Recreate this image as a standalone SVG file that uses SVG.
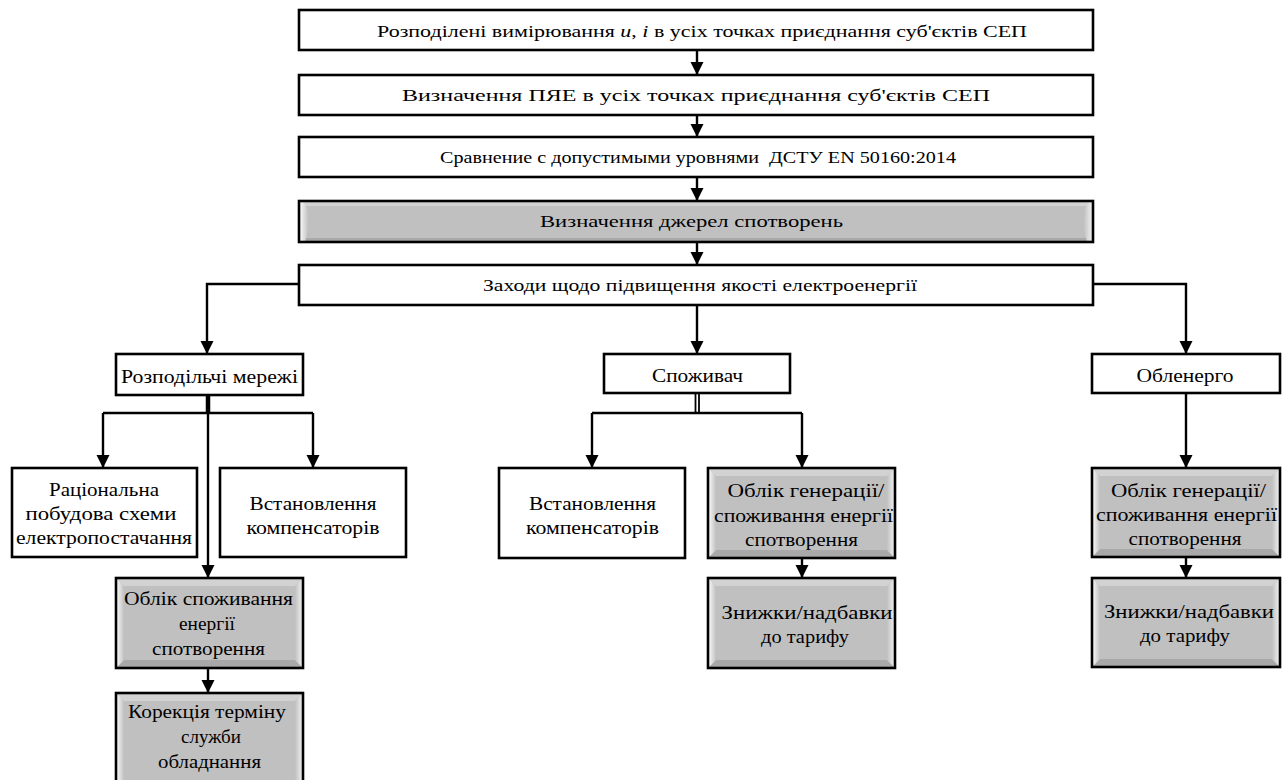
<svg xmlns="http://www.w3.org/2000/svg" width="1284" height="780" viewBox="0 0 1284 780">
<defs>
<marker id="arr" viewBox="0 0 13 14" refX="12" refY="7" markerWidth="13" markerHeight="14" markerUnits="userSpaceOnUse" orient="auto">
<path d="M0,0.5 L13,7 L0,13.5 z" fill="#000"/>
</marker>
<linearGradient id="bevL" x1="0" y1="0" x2="1" y2="0">
<stop offset="0" stop-color="#ffffff"/>
<stop offset="1" stop-color="#c0c0c0"/>
</linearGradient>
<linearGradient id="bevR" x1="0" y1="0" x2="1" y2="0">
<stop offset="0" stop-color="#c0c0c0"/>
<stop offset="1" stop-color="#f4f4f4"/>
</linearGradient>
</defs>
<style>
.box{fill:#fff;stroke:#000;stroke-width:2.6}
.gbox{fill:none;stroke:#000;stroke-width:2.6}
.gfill{fill:#c0c0c0}
.bt{fill:#d2d2d2}
.bb{fill:#a9a9a9}
.bl{fill:url(#bevL)}
.br{fill:url(#bevR)}
.t{font-size:17px;fill:#000;text-anchor:middle}
.t2{font-size:19.5px;fill:#000;text-anchor:middle}
.c{fill:none;stroke:#000;stroke-width:2.4}
.ca{fill:none;stroke:#000;stroke-width:2.4;marker-end:url(#arr)}
</style>
<rect width="1284" height="780" fill="#fff"/>

<g id="connectors">
<line class="ca" x1="697" y1="51" x2="697" y2="74"/>
<line class="ca" x1="697" y1="115" x2="697" y2="136"/>
<line class="ca" x1="697" y1="177" x2="697" y2="200"/>
<line class="ca" x1="697" y1="242" x2="697" y2="264"/>
<polyline class="ca" points="299,284 207,284 207,353"/>
<line class="ca" x1="697" y1="305" x2="697" y2="353"/>
<polyline class="ca" points="1093,284 1186,284 1186,353"/>
<line x1="208" y1="395" x2="208" y2="413" stroke="#000" stroke-width="4.5"/>
<polyline class="c" points="103,413 313,413"/>
<line class="ca" x1="103" y1="413" x2="103" y2="467"/>
<line class="ca" x1="313" y1="413" x2="313" y2="467"/>
<line class="ca" x1="208" y1="413" x2="208" y2="577"/>
<line class="ca" x1="208" y1="668" x2="208" y2="692"/>
<line x1="695.5" y1="393" x2="695.5" y2="413" stroke="#000" stroke-width="1.8"/>
<line x1="699" y1="393" x2="699" y2="413" stroke="#000" stroke-width="1.8"/>
<polyline class="c" points="592,413 802,413"/>
<line class="ca" x1="592" y1="413" x2="592" y2="467"/>
<line class="ca" x1="802" y1="413" x2="802" y2="467"/>
<line class="ca" x1="802" y1="558" x2="802" y2="577"/>
<line class="ca" x1="1186" y1="393" x2="1186" y2="467"/>
<line class="ca" x1="1186" y1="557" x2="1186" y2="577"/>
</g>

<g font-family="'Liberation Serif', 'Times New Roman', serif">
<g id="n1">
<rect class="box" x="299" y="10" width="794" height="40"/>
<text class="t" x="702" y="37" textLength="650" lengthAdjust="spacingAndGlyphs">Розподілені вимірювання <tspan font-style="italic">u</tspan>, <tspan font-style="italic">i</tspan> в усіх точках приєднання суб'єктів СЕП</text>
</g>
<g id="n2">
<rect class="box" x="299" y="75" width="794" height="40"/>
<text class="t" x="696" y="101" textLength="588" lengthAdjust="spacingAndGlyphs">Визначення ПЯЕ в усіх точках приєднання суб'єктів СЕП</text>
</g>
<g id="n3">
<rect class="box" x="299" y="137" width="794" height="40"/>
<text class="t" x="698" y="163" textLength="516" lengthAdjust="spacingAndGlyphs" xml:space="preserve">Сравнение с допустимыми уровнями  ДСТУ EN 50160:2014</text>
</g>
<g id="n4">
<rect class="gfill" x="299" y="201" width="794" height="41"/>
<polygon class="bt" points="299,201 1093,201 1085,206 307,206"/>
<polygon class="bb" points="299,242 1093,242 1085,238 307,238"/>
<path class="bl" d="M299,201 L305,201 Q312,221 305,242 L299,242 z"/>
<path class="br" d="M1093,201 L1087,201 Q1080,221 1087,242 L1093,242 z"/>
<rect class="gbox" x="299" y="201" width="794" height="41"/>
<text class="t" x="691.5" y="227" textLength="303" lengthAdjust="spacingAndGlyphs">Визначення джерел спотворень</text>
</g>
<g id="n5">
<rect class="box" x="299" y="265" width="794" height="40"/>
<text class="t" x="700" y="291" textLength="434" lengthAdjust="spacingAndGlyphs">Заходи щодо підвищення якості електроенергії</text>
</g>

<g id="n6">
<rect class="box" x="116" y="354" width="187" height="41"/>
<text class="t2" x="209.5" y="383" textLength="177" lengthAdjust="spacingAndGlyphs">Розподільчі мережі</text>
</g>
<g id="n7">
<rect class="box" x="604" y="354" width="186" height="39"/>
<text class="t2" x="697.5" y="382" textLength="91" lengthAdjust="spacingAndGlyphs">Споживач</text>
</g>
<g id="n8">
<rect class="box" x="1092" y="354" width="188" height="39"/>
<text class="t2" x="1185" y="382" textLength="97" lengthAdjust="spacingAndGlyphs">Обленерго</text>
</g>

<g id="n9">
<rect class="box" x="12" y="468" width="185" height="89"/>
<text class="t2" x="104" y="496" textLength="110" lengthAdjust="spacingAndGlyphs">Раціональна</text>
<text class="t2" x="101" y="520" textLength="151" lengthAdjust="spacingAndGlyphs">побудова схеми</text>
<text class="t2" x="104" y="544" textLength="176" lengthAdjust="spacingAndGlyphs">електропостачання</text>
</g>
<g id="n10">
<rect class="box" x="220" y="468" width="186" height="89"/>
<text class="t2" x="313" y="510" textLength="127" lengthAdjust="spacingAndGlyphs">Встановлення</text>
<text class="t2" x="313" y="534" textLength="133" lengthAdjust="spacingAndGlyphs">компенсаторів</text>
</g>
<g id="n11">
<rect class="gfill" x="116" y="578" width="187" height="90"/>
<polygon class="bt" points="116,578 303,578 295,586 124,586"/>
<polygon class="bb" points="116,668 303,668 295,660 124,660"/>
<polygon class="bl" points="116,578 124,586 124,660 116,668"/>
<polygon class="br" points="303,578 295,586 295,660 303,668"/>
<rect class="gbox" x="116" y="578" width="187" height="90"/>
<text class="t2" x="208.5" y="605" textLength="169" lengthAdjust="spacingAndGlyphs">Облік споживання</text>
<text class="t2" x="207" y="630" textLength="56" lengthAdjust="spacingAndGlyphs">енергії</text>
<text class="t2" x="208.5" y="655" textLength="113" lengthAdjust="spacingAndGlyphs">спотворення</text>
</g>
<g id="n12">
<rect class="gfill" x="116" y="693" width="187" height="92"/>
<polygon class="bt" points="116,693 303,693 295,701 124,701"/>
<polygon class="bl" points="116,693 124,701 124,785 116,785"/>
<polygon class="br" points="303,693 295,701 295,785 303,785"/>
<rect class="gbox" x="116" y="693" width="187" height="92"/>
<text class="t2" x="207" y="718" textLength="158" lengthAdjust="spacingAndGlyphs">Корекція терміну</text>
<text class="t2" x="211" y="743" textLength="60" lengthAdjust="spacingAndGlyphs">служби</text>
<text class="t2" x="209.5" y="768" textLength="103" lengthAdjust="spacingAndGlyphs">обладнання</text>
</g>

<g id="n13">
<rect class="box" x="499" y="468" width="186" height="90"/>
<text class="t2" x="592.5" y="510" textLength="127" lengthAdjust="spacingAndGlyphs">Встановлення</text>
<text class="t2" x="592.5" y="534" textLength="133" lengthAdjust="spacingAndGlyphs">компенсаторів</text>
</g>
<g id="n14">
<rect class="gfill" x="708" y="468" width="187" height="90"/>
<polygon class="bt" points="708,468 895,468 887,476 716,476"/>
<polygon class="bb" points="708,558 895,558 887,550 716,550"/>
<polygon class="bl" points="708,468 716,476 716,550 708,558"/>
<polygon class="br" points="895,468 887,476 887,550 895,558"/>
<rect class="gbox" x="708" y="468" width="187" height="90"/>
<text class="t2" x="806" y="497" textLength="157" lengthAdjust="spacingAndGlyphs">Облік генерації/</text>
<text class="t2" x="803.5" y="522" textLength="179" lengthAdjust="spacingAndGlyphs">споживання енергії</text>
<text class="t2" x="801.5" y="546" textLength="113" lengthAdjust="spacingAndGlyphs">спотворення</text>
</g>
<g id="n15">
<rect class="gfill" x="708" y="578" width="187" height="90"/>
<polygon class="bt" points="708,578 895,578 887,586 716,586"/>
<polygon class="bb" points="708,668 895,668 887,660 716,660"/>
<polygon class="bl" points="708,578 716,586 716,660 708,668"/>
<polygon class="br" points="895,578 887,586 887,660 895,668"/>
<rect class="gbox" x="708" y="578" width="187" height="90"/>
<text class="t2" x="807" y="619" textLength="171" lengthAdjust="spacingAndGlyphs">Знижки/надбавки</text>
<text class="t2" x="805" y="643" textLength="88" lengthAdjust="spacingAndGlyphs">до тарифу</text>
</g>

<g id="n16">
<rect class="gfill" x="1092" y="468" width="188" height="89"/>
<polygon class="bt" points="1092,468 1280,468 1272,476 1100,476"/>
<polygon class="bb" points="1092,557 1280,557 1272,549 1100,549"/>
<polygon class="bl" points="1092,468 1100,476 1100,549 1092,557"/>
<polygon class="br" points="1280,468 1272,476 1272,549 1280,557"/>
<rect class="gbox" x="1092" y="468" width="188" height="89"/>
<text class="t2" x="1188.5" y="497" textLength="155" lengthAdjust="spacingAndGlyphs">Облік генерації/</text>
<text class="t2" x="1186.5" y="521" textLength="181" lengthAdjust="spacingAndGlyphs">споживання енергії</text>
<text class="t2" x="1185" y="545" textLength="113" lengthAdjust="spacingAndGlyphs">спотворення</text>
</g>
<g id="n17">
<rect class="gfill" x="1092" y="578" width="188" height="89"/>
<polygon class="bt" points="1092,578 1280,578 1272,586 1100,586"/>
<polygon class="bb" points="1092,667 1280,667 1272,659 1100,659"/>
<polygon class="bl" points="1092,578 1100,586 1100,659 1092,667"/>
<polygon class="br" points="1280,578 1272,586 1272,659 1280,667"/>
<rect class="gbox" x="1092" y="578" width="188" height="89"/>
<text class="t2" x="1189" y="618" textLength="170" lengthAdjust="spacingAndGlyphs">Знижки/надбавки</text>
<text class="t2" x="1185" y="642" textLength="90" lengthAdjust="spacingAndGlyphs">до тарифу</text>
</g>
</g>
</svg>
